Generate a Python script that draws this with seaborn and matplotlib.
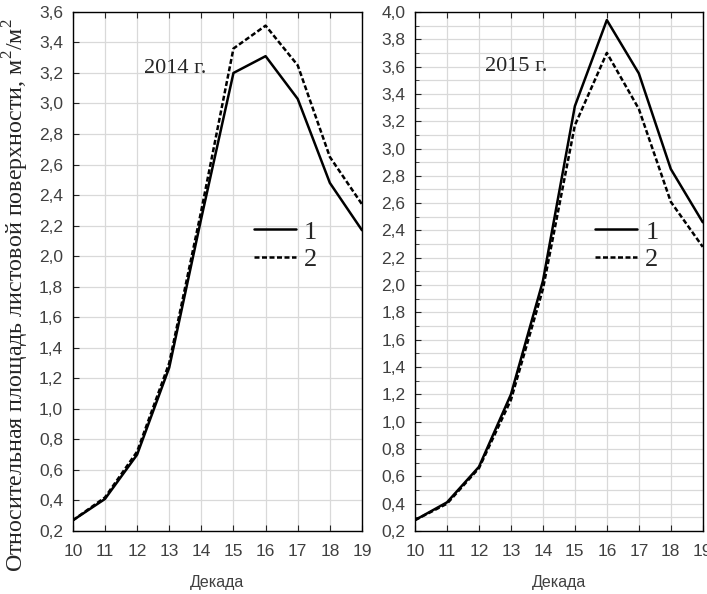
import matplotlib
matplotlib.use("Agg")
import matplotlib.pyplot as plt
import seaborn as sns
import numpy as np
from matplotlib.ticker import MultipleLocator

# Data
decades = [10, 11, 12, 13, 14, 15, 16, 17, 18, 19]
lai_2014_1 = [0.27, 0.41, 0.70, 1.27, 2.25, 3.20, 3.31, 3.03, 2.48, 2.17]
lai_2014_2 = [0.27, 0.42, 0.72, 1.30, 2.30, 3.36, 3.51, 3.25, 2.65, 2.34]
lai_2015_1 = [0.28, 0.41, 0.67, 1.20, 2.03, 3.31, 3.94, 3.55, 2.85, 2.46]
lai_2015_2 = [0.28, 0.40, 0.66, 1.16, 1.97, 3.17, 3.70, 3.29, 2.61, 2.28]
series_labels = ["1", "2"]
year_labels = ["2014 г.", "2015 г."]

sns.set_style("white")
plt.rcParams["font.family"] = ["Liberation Sans", "DejaVu Sans"]

fig = plt.figure(figsize=(7.07, 5.94), dpi=100)
ax1 = fig.add_axes([0.103, 0.106, 0.409, 0.874])
ax2 = fig.add_axes([0.587, 0.106, 0.407, 0.874])

serif = ["Liberation Serif", "DejaVu Serif"]
grid_col = "#d9d9d9"


def draw_panel(ax, s1, s2, ylim, minor, year, year_xy):
    sns.lineplot(x=decades, y=s1, ax=ax, color="black", lw=1.8, label=series_labels[0])
    sns.lineplot(x=decades, y=s2, ax=ax, color="black", lw=1.8, label=series_labels[1],
                 linestyle=(0, (2.0, 1.0)))
    ax.set_xlim(10, 19)
    ax.set_ylim(*ylim)
    ax.xaxis.set_major_locator(MultipleLocator(1))
    ax.yaxis.set_major_locator(MultipleLocator(0.2))
    ax.yaxis.set_major_formatter(plt.FuncFormatter(lambda v, p: f"{v:.1f}".replace(".", ",")))
    ax.grid(True, which="major", color=grid_col, lw=0.9)
    if minor:
        ax.yaxis.set_minor_locator(MultipleLocator(0.1))
        ax.grid(True, which="minor", axis="y", color=grid_col, lw=0.9)
        ax.tick_params(which="minor", axis="y", direction="in", length=3, left=True)
    ax.set_axisbelow(True)
    ax.tick_params(which="major", direction="in", length=4, top=True, bottom=True, left=True,
                   labelsize=12.5, labelcolor="#404040")
    ax.tick_params(axis="y", pad=7)
    ax.tick_params(axis="x", pad=9)
    for sp in ax.spines.values():
        sp.set_color("black")
        sp.set_linewidth(1.0)
    ax.set_xlabel("Декада", fontsize=11.5, color="#404040", labelpad=12)
    ax.set_ylabel("")
    ax.text(year_xy[0], year_xy[1], year, fontsize=16, family=serif, va="center")
    ax.legend(loc="center left", bbox_to_anchor=(0.58, 0.55), frameon=False,
              prop={"family": serif, "size": 19}, handlelength=1.6, handletextpad=0.3,
              labelspacing=0.15, borderpad=0)


draw_panel(ax1, lai_2014_1, lai_2014_2, (0.2, 3.6), False, year_labels[0], (12.2, 3.23))
draw_panel(ax2, lai_2015_1, lai_2015_2, (0.2, 4.0), True, year_labels[1], (12.2, 3.6))

ax1.set_ylabel("Относительная площадь листовой поверхности, м$^{\\mathregular{2}}$/м$^{\\mathregular{2}}$",
               fontsize=17.3, family=serif)
ax1.yaxis.set_label_coords(-0.143, 0.455)

fig.savefig("out.png", dpi=100)
